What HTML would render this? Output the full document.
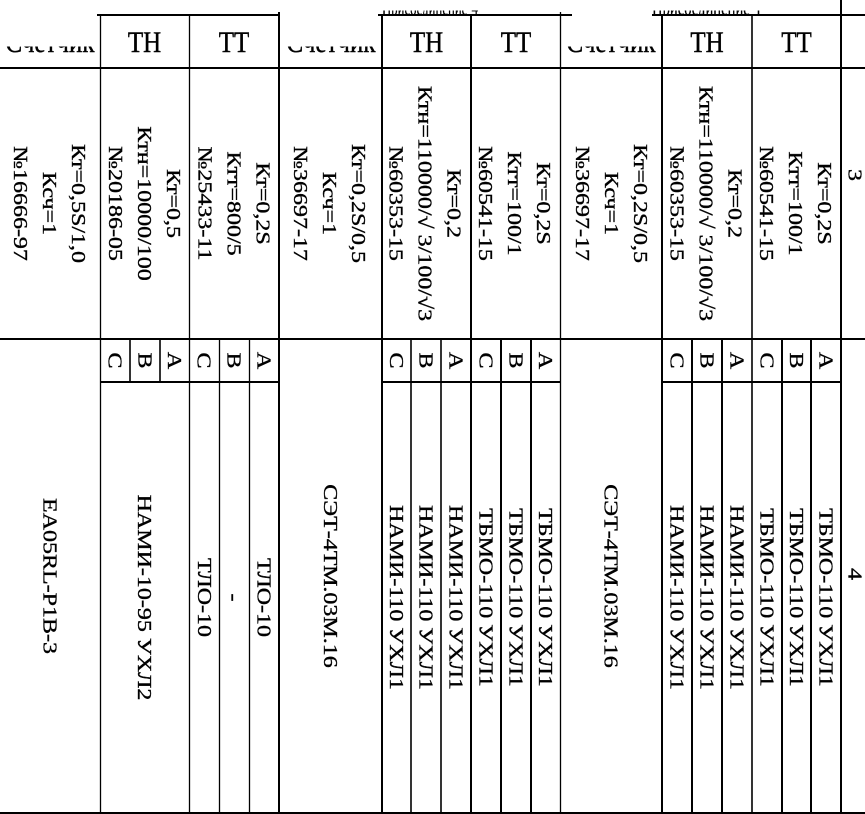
<!DOCTYPE html>
<html>
<head>
<meta charset="utf-8">
<style>
html,body{margin:0;padding:0;background:#fff;}
svg{display:block;}
text{font-family:"Liberation Serif","DejaVu Serif",serif;fill:#000;stroke:#000;stroke-width:0.35px;}
.r{font-size:20px;}
.h{font-size:25px;}
</style>
</head>
<body>
<svg width="865" height="814" viewBox="0 0 865 814" xmlns="http://www.w3.org/2000/svg">
<defs>
<clipPath id="hc"><rect x="0" y="46.5" width="865" height="20"/></clipPath>
<clipPath id="tc"><rect x="0" y="10.5" width="865" height="4.5"/></clipPath>
</defs>
<rect x="0" y="0" width="865" height="814" fill="#fff"/>

<!-- horizontal lines -->
<g stroke="#000" fill="none">
<line x1="97" y1="15" x2="280" y2="15" stroke-width="2"/>
<line x1="378" y1="15" x2="572" y2="15" stroke-width="2"/>
<line x1="652" y1="15" x2="865" y2="15" stroke-width="2"/>
<line x1="0" y1="68" x2="865" y2="68" stroke-width="2"/>
<line x1="0" y1="339" x2="865" y2="339" stroke-width="2"/>
<line x1="100" y1="382" x2="279" y2="382" stroke-width="2"/>
<line x1="382" y1="382" x2="560" y2="382" stroke-width="2"/>
<line x1="662" y1="382" x2="841" y2="382" stroke-width="2"/>
<line x1="0" y1="813" x2="865" y2="813" stroke-width="2"/>

<!-- vertical lines -->
<line x1="100.5" y1="15" x2="100.5" y2="813" stroke-width="1.3"/>
<line x1="130" y1="339" x2="130" y2="382" stroke-width="1.6"/>
<line x1="160" y1="339" x2="160" y2="382" stroke-width="1.6"/>
<line x1="189.5" y1="15" x2="189.5" y2="813" stroke-width="1.3"/>
<line x1="219.5" y1="339" x2="219.5" y2="813" stroke-width="1.3"/>
<line x1="249.5" y1="339" x2="249.5" y2="813" stroke-width="1.3"/>
<line x1="279" y1="12" x2="279" y2="813" stroke-width="2"/>
<line x1="382" y1="15" x2="382" y2="813" stroke-width="2"/>
<line x1="411" y1="339" x2="411" y2="813" stroke-width="1.6"/>
<line x1="441" y1="339" x2="441" y2="813" stroke-width="1.6"/>
<line x1="471" y1="15" x2="471" y2="813" stroke-width="2"/>
<line x1="501" y1="339" x2="501" y2="813" stroke-width="2"/>
<line x1="531" y1="339" x2="531" y2="813" stroke-width="2"/>
<line x1="560.5" y1="12" x2="560.5" y2="813" stroke-width="1.3"/>
<line x1="662" y1="15" x2="662" y2="813" stroke-width="2"/>
<line x1="692" y1="339" x2="692" y2="813" stroke-width="2"/>
<line x1="722" y1="339" x2="722" y2="813" stroke-width="2"/>
<line x1="752" y1="15" x2="752" y2="813" stroke-width="1.6"/>
<line x1="782" y1="339" x2="782" y2="813" stroke-width="2"/>
<line x1="811" y1="339" x2="811" y2="813" stroke-width="2"/>
<line x1="841" y1="0" x2="841" y2="813" stroke-width="2"/>
</g>

<!-- clipped top remnants -->
<g clip-path="url(#tc)" class="h">
<text x="382" y="15" textLength="96" lengthAdjust="spacingAndGlyphs">Присоединение-4</text>
<text x="652" y="15" textLength="110" lengthAdjust="spacingAndGlyphs">Присоединение-1</text>
</g>

<!-- header row -->
<g class="h" text-anchor="middle">
<g clip-path="url(#hc)">
<text transform="translate(50,52) scale(1,1.17)">Счетчик</text>
<text transform="translate(331,52) scale(1,1.17)">Счетчик</text>
<text transform="translate(611,52) scale(1,1.17)">Счетчик</text>
</g>
<text transform="translate(144.5,52) scale(1,1.17)">ТН</text>
<text transform="translate(234,52) scale(1,1.17)">ТТ</text>
<text transform="translate(426.5,52) scale(1,1.17)">ТН</text>
<text transform="translate(516,52) scale(1,1.17)">ТТ</text>
<text transform="translate(707,52) scale(1,1.17)">ТН</text>
<text transform="translate(796.5,52) scale(1,1.17)">ТТ</text>
</g>

<!-- rotated texts: upper cells (center y=203.5) -->
<g class="r" text-anchor="middle">
<!-- col 0 -->
<text transform="translate(71.9,203.5) scale(1,1.2) rotate(90)">Кт=0,5S/1,0</text>
<text transform="translate(42.9,203.5) scale(1,1.2) rotate(90)">Ксч=1</text>
<text transform="translate(13.9,203.5) scale(1,1.2) rotate(90)">№16666-97</text>
<!-- TH1 -->
<text transform="translate(166.9,203.5) scale(1,1.2) rotate(90)">Кт=0,5</text>
<text transform="translate(137.9,203.5) scale(1,1.2) rotate(90)">Ктн=10000/100</text>
<text transform="translate(108.9,203.5) scale(1,1.2) rotate(90)">№20186-05</text>
<!-- TT1 -->
<text transform="translate(256.4,203.5) scale(1,1.2) rotate(90)">Кт=0,2S</text>
<text transform="translate(227.4,203.5) scale(1,1.2) rotate(90)">Ктт=800/5</text>
<text transform="translate(198.4,203.5) scale(1,1.2) rotate(90)">№25433-11</text>
<!-- Cnt2 -->
<text transform="translate(351.9,203.5) scale(1,1.2) rotate(90)">Кт=0,2S/0,5</text>
<text transform="translate(322.9,203.5) scale(1,1.2) rotate(90)">Ксч=1</text>
<text transform="translate(293.9,203.5) scale(1,1.2) rotate(90)">№36697-17</text>
<!-- TH2 -->
<text transform="translate(447.4,203.5) scale(1,1.2) rotate(90)">Кт=0,2</text>
<text transform="translate(418.4,203.5) scale(1,1.2) rotate(90)">Ктн=110000/√ 3/100/√3</text>
<text transform="translate(389.4,203.5) scale(1,1.2) rotate(90)">№60353-15</text>
<!-- TT2 -->
<text transform="translate(536.9,203.5) scale(1,1.2) rotate(90)">Кт=0,2S</text>
<text transform="translate(507.9,203.5) scale(1,1.2) rotate(90)">Ктт=100/1</text>
<text transform="translate(478.9,203.5) scale(1,1.2) rotate(90)">№60541-15</text>
<!-- Cnt3 -->
<text transform="translate(633.9,203.5) scale(1,1.2) rotate(90)">Кт=0,2S/0,5</text>
<text transform="translate(604.9,203.5) scale(1,1.2) rotate(90)">Ксч=1</text>
<text transform="translate(575.9,203.5) scale(1,1.2) rotate(90)">№36697-17</text>
<!-- TH3 -->
<text transform="translate(728.4,203.5) scale(1,1.2) rotate(90)">Кт=0,2</text>
<text transform="translate(699.4,203.5) scale(1,1.2) rotate(90)">Ктн=110000/√ 3/100/√3</text>
<text transform="translate(670.4,203.5) scale(1,1.2) rotate(90)">№60353-15</text>
<!-- TT3 -->
<text transform="translate(817.9,203.5) scale(1,1.2) rotate(90)">Кт=0,2S</text>
<text transform="translate(788.9,203.5) scale(1,1.2) rotate(90)">Ктт=100/1</text>
<text transform="translate(759.9,203.5) scale(1,1.2) rotate(90)">№60541-15</text>

<!-- side numbers -->
<text transform="translate(848.4,175) scale(1,1.2) rotate(90)">3</text>
<text transform="translate(848.4,574) scale(1,1.2) rotate(90)">4</text>

<!-- phase letters (y center 360.5) -->
<text transform="translate(108.4,360.5) scale(1,1.2) rotate(90)">C</text>
<text transform="translate(138.4,360.5) scale(1,1.2) rotate(90)">B</text>
<text transform="translate(167.9,360.5) scale(1,1.2) rotate(90)">A</text>
<text transform="translate(197.4,360.5) scale(1,1.2) rotate(90)">C</text>
<text transform="translate(227.4,360.5) scale(1,1.2) rotate(90)">B</text>
<text transform="translate(257.4,360.5) scale(1,1.2) rotate(90)">A</text>

<text transform="translate(389.9,360.5) scale(1,1.2) rotate(90)">C</text>
<text transform="translate(419.4,360.5) scale(1,1.2) rotate(90)">B</text>
<text transform="translate(449.4,360.5) scale(1,1.2) rotate(90)">A</text>
<text transform="translate(479.4,360.5) scale(1,1.2) rotate(90)">C</text>
<text transform="translate(509.4,360.5) scale(1,1.2) rotate(90)">B</text>
<text transform="translate(538.9,360.5) scale(1,1.2) rotate(90)">A</text>

<text transform="translate(670.4,360.5) scale(1,1.2) rotate(90)">C</text>
<text transform="translate(700.4,360.5) scale(1,1.2) rotate(90)">B</text>
<text transform="translate(730.4,360.5) scale(1,1.2) rotate(90)">A</text>
<text transform="translate(760.4,360.5) scale(1,1.2) rotate(90)">C</text>
<text transform="translate(789.9,360.5) scale(1,1.2) rotate(90)">B</text>
<text transform="translate(819.4,360.5) scale(1,1.2) rotate(90)">A</text>

<!-- lower cells -->
<text transform="translate(43.4,576) scale(1,1.2) rotate(90)">EA05RL-P1B-3</text>
<text transform="translate(137.9,597.5) scale(1,1.2) rotate(90)">НАМИ-10-95 УХЛ2</text>
<text transform="translate(197.9,597.5) scale(1,1.2) rotate(90)">ТЛО-10</text>
<text transform="translate(227.4,597.5) scale(1,1.2) rotate(90)">-</text>
<text transform="translate(257.4,597.5) scale(1,1.2) rotate(90)">ТЛО-10</text>
<text transform="translate(323.9,576) scale(1,1.2) rotate(90)">СЭТ-4ТМ.03М.16</text>

<text transform="translate(389.9,597.5) scale(1,1.2) rotate(90)">НАМИ-110 УХЛ1</text>
<text transform="translate(419.4,597.5) scale(1,1.2) rotate(90)">НАМИ-110 УХЛ1</text>
<text transform="translate(449.4,597.5) scale(1,1.2) rotate(90)">НАМИ-110 УХЛ1</text>
<text transform="translate(479.4,597.5) scale(1,1.2) rotate(90)">ТБМО-110 УХЛ1</text>
<text transform="translate(509.4,597.5) scale(1,1.2) rotate(90)">ТБМО-110 УХЛ1</text>
<text transform="translate(538.9,597.5) scale(1,1.2) rotate(90)">ТБМО-110 УХЛ1</text>

<text transform="translate(604.4,576) scale(1,1.2) rotate(90)">СЭТ-4ТМ.03М.16</text>

<text transform="translate(670.4,597.5) scale(1,1.2) rotate(90)">НАМИ-110 УХЛ1</text>
<text transform="translate(700.4,597.5) scale(1,1.2) rotate(90)">НАМИ-110 УХЛ1</text>
<text transform="translate(730.4,597.5) scale(1,1.2) rotate(90)">НАМИ-110 УХЛ1</text>
<text transform="translate(760.4,597.5) scale(1,1.2) rotate(90)">ТБМО-110 УХЛ1</text>
<text transform="translate(789.9,597.5) scale(1,1.2) rotate(90)">ТБМО-110 УХЛ1</text>
<text transform="translate(819.4,597.5) scale(1,1.2) rotate(90)">ТБМО-110 УХЛ1</text>
</g>
</svg>
</body>
</html>
